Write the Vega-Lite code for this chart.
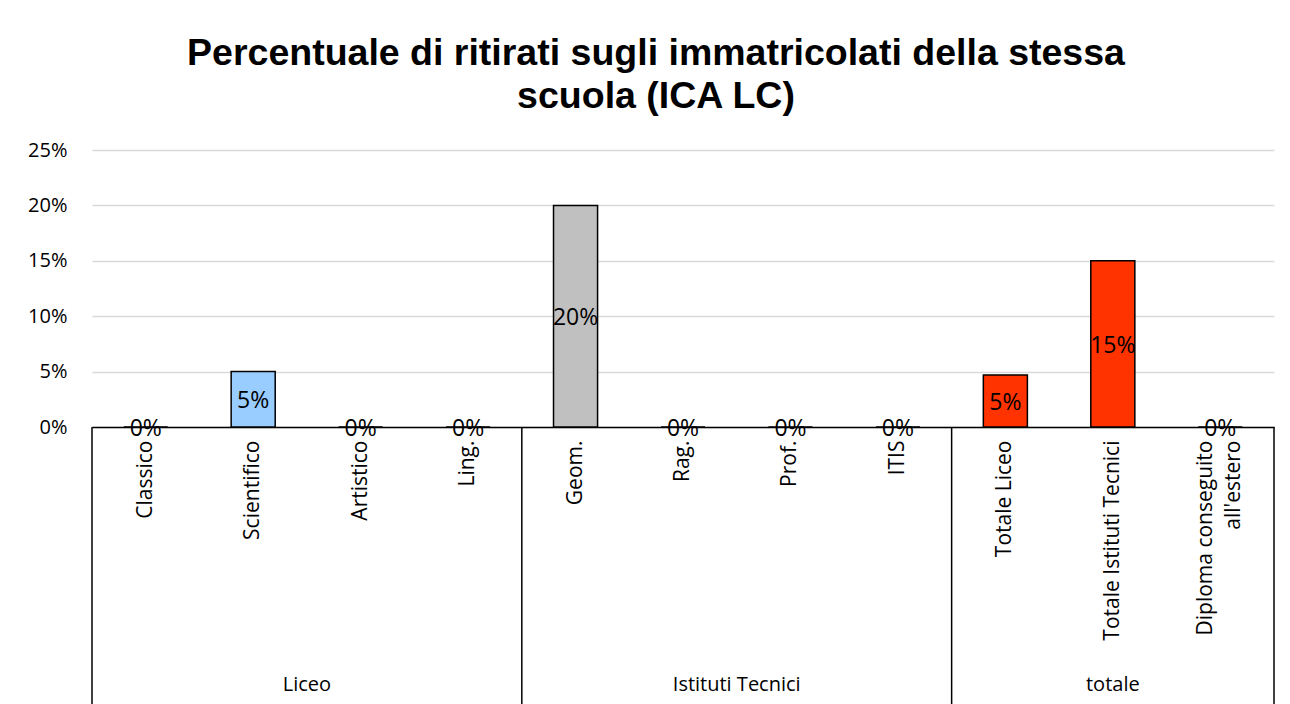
{
  "$schema": "https://vega.github.io/schema/vega-lite/v6.json",
  "width": 1182,
  "height": 277,
  "autosize": {"type": "none"},
  "padding": {"left": 92, "top": 150, "right": 16, "bottom": 277},
  "background": "white",
  "title": {
    "text": ["Percentuale di ritirati sugli immatricolati della stessa", "scuola (ICA LC)"],
    "font": "Liberation Sans",
    "fontSize": 37.5,
    "fontWeight": "bold",
    "color": "black",
    "lineHeight": 43,
    "offset": 25,
    "dx": -27,
    "anchor": "middle"
  },
  "datasets": {
    "main": [
      {"cat": "Classico", "group": "Liceo", "value": 0},
      {"cat": "Scientifico", "group": "Liceo", "value": 0.05},
      {"cat": "Artistico", "group": "Liceo", "value": 0},
      {"cat": "Ling.", "group": "Liceo", "value": 0},
      {"cat": "Geom.", "group": "Istituti Tecnici", "value": 0.2},
      {"cat": "Rag.", "group": "Istituti Tecnici", "value": 0},
      {"cat": "Prof.", "group": "Istituti Tecnici", "value": 0},
      {"cat": "ITIS", "group": "Istituti Tecnici", "value": 0},
      {"cat": "Totale Liceo", "group": "totale", "value": 0.047},
      {"cat": "Totale Istituti Tecnici", "group": "totale", "value": 0.15},
      {"cat": "Diploma conseguito all'estero", "group": "totale", "value": 0}
    ],
    "starts": [
      {"cat": "Classico"},
      {"cat": "Geom."},
      {"cat": "Totale Liceo"}
    ],
    "ends": [
      {"cat": "Diploma conseguito all'estero"}
    ],
    "groupsEven": [
      {"cat": "Artistico", "group": "Liceo"},
      {"cat": "Prof.", "group": "Istituti Tecnici"}
    ],
    "groupsOdd": [
      {"cat": "Totale Istituti Tecnici", "group": "totale"}
    ]
  },
  "config": {
    "view": {"stroke": null},
    "font": "Open Sans",
    "axisX": {
      "labelAngle": -90,
      "ticks": false,
      "grid": false,
      "domainColor": "black",
      "domainWidth": 1.5,
      "labelFontSize": 21,
      "labelColor": "black",
      "labelPadding": 13,
      "labelLimit": 400,
      "labelLineHeight": 28,
      "labelExpr": "indexof(datum.value, 'Diploma') == 0 ? ['Diploma conseguito', \"all'estero\"] : datum.value"
    },
    "axisY": {
      "grid": true,
      "gridColor": "#D9D9D9",
      "gridWidth": 1.5,
      "domain": false,
      "ticks": false,
      "labelFontSize": 20,
      "labelColor": "black",
      "labelPadding": 25
    }
  },
  "layer": [
    {
      "data": {"name": "main"},
      "mark": {"type": "bar", "width": {"band": 0.41}, "stroke": "black", "strokeWidth": 1.5},
      "encoding": {
        "x": {
          "field": "cat", "type": "nominal", "sort": null, "title": null,
          "scale": {"domain": ["Classico", "Scientifico", "Artistico", "Ling.", "Geom.", "Rag.", "Prof.", "ITIS", "Totale Liceo", "Totale Istituti Tecnici", "Diploma conseguito all'estero"], "paddingInner": 0, "paddingOuter": 0},
          "axis": {"labelOffset": {"condition": {"test": "indexof(datum.value, 'Diploma') == 0", "value": -14}, "value": 0}}
        },
        "y": {
          "field": "value", "type": "quantitative", "title": null,
          "scale": {"domain": [0, 0.25], "nice": false, "zero": true},
          "axis": {"values": [0, 0.05, 0.1, 0.15, 0.2, 0.25], "format": ".0%"}
        },
        "color": {
          "field": "group", "type": "nominal", "legend": null,
          "scale": {"domain": ["Liceo", "Istituti Tecnici", "totale"], "range": ["#99CCFF", "#C0C0C0", "#FF3300"]}
        }
      }
    },
    {
      "data": {"name": "main"},
      "transform": [{"calculate": "datum.value / 2", "as": "mid"}],
      "mark": {"type": "text", "fontSize": 23, "align": "center", "baseline": "middle", "color": "black", "dy": 2},
      "encoding": {
        "x": {"field": "cat", "type": "nominal", "sort": null, "title": null},
        "y": {"field": "mid", "type": "quantitative", "title": null},
        "text": {"field": "value", "type": "quantitative", "format": ".0%"}
      }
    },
    {
      "data": {"name": "starts"},
      "mark": {"type": "rule", "color": "black", "strokeWidth": 1.5},
      "encoding": {
        "x": {"field": "cat", "type": "nominal", "sort": null, "title": null, "bandPosition": 0},
        "y": {"datum": 0, "type": "quantitative", "title": null},
        "y2": {"datum": -0.25}
      }
    },
    {
      "data": {"name": "ends"},
      "mark": {"type": "rule", "color": "black", "strokeWidth": 1.5},
      "encoding": {
        "x": {"field": "cat", "type": "nominal", "sort": null, "title": null, "bandPosition": 1},
        "y": {"datum": 0, "type": "quantitative", "title": null},
        "y2": {"datum": -0.25}
      }
    },
    {
      "data": {"name": "groupsEven"},
      "mark": {"type": "text", "fontSize": 20, "align": "center", "baseline": "middle", "color": "black"},
      "encoding": {
        "x": {"field": "cat", "type": "nominal", "sort": null, "title": null, "bandPosition": 0},
        "y": {"datum": -0.233, "type": "quantitative", "title": null},
        "text": {"field": "group", "type": "nominal"}
      }
    },
    {
      "data": {"name": "groupsOdd"},
      "mark": {"type": "text", "fontSize": 20, "align": "center", "baseline": "middle", "color": "black"},
      "encoding": {
        "x": {"field": "cat", "type": "nominal", "sort": null, "title": null, "bandPosition": 0.5},
        "y": {"datum": -0.233, "type": "quantitative", "title": null},
        "text": {"field": "group", "type": "nominal"}
      }
    }
  ]
}
